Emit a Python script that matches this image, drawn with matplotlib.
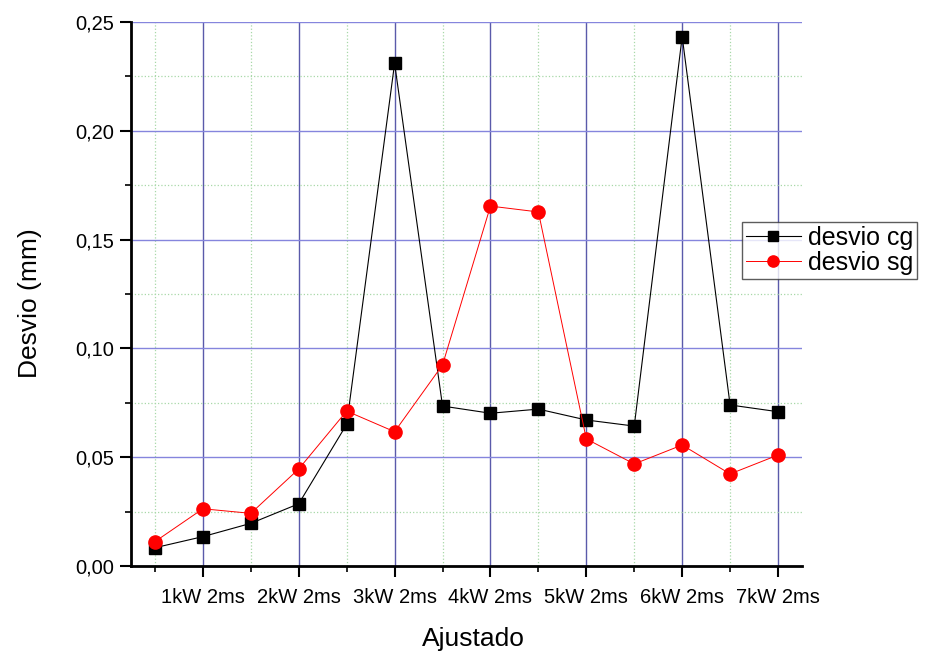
import numpy as np
import matplotlib.pyplot as plt
from matplotlib.ticker import MultipleLocator, FuncFormatter

plt.rcParams['font.family'] = ['Liberation Sans', 'DejaVu Sans']

# data
pos = np.arange(1, 15)
desvio_cg = [0.0084, 0.0135, 0.0196, 0.0286, 0.0651, 0.2310, 0.0735,
             0.0702, 0.0721, 0.0671, 0.0643, 0.2433, 0.0740, 0.0709]
desvio_sg = [0.0112, 0.0263, 0.0242, 0.0446, 0.0712, 0.0617, 0.0924,
             0.1654, 0.1627, 0.0584, 0.0469, 0.0556, 0.0423, 0.0510]
tick_pos = [2, 4, 6, 8, 10, 12, 14]
tick_labels = ['1kW 2ms', '2kW 2ms', '3kW 2ms', '4kW 2ms',
               '5kW 2ms', '6kW 2ms', '7kW 2ms']

fig = plt.figure(figsize=(9.28, 6.53), dpi=100)
ax = fig.add_axes([131/928, 87/653, (802-131)/928, (566-22)/653])

ax.plot(pos, desvio_cg, color='black', lw=0.8, marker='s', ms=8,
        mfc='black', mec='black', label='desvio cg', zorder=3)
ax.plot(pos, desvio_sg, color='red', lw=0.7, marker='o', ms=9.5,
        mfc='red', mec='red', label='desvio sg', zorder=3)

ax.set_xlim(0.5, 14.5)
ax.set_ylim(0, 0.25)
ax.set_xticks(tick_pos)
ax.set_xticklabels(tick_labels)
ax.set_xticks([1, 3, 5, 7, 9, 11, 13], minor=True)
ax.yaxis.set_major_locator(MultipleLocator(0.05))
ax.yaxis.set_minor_locator(MultipleLocator(0.025))
ax.yaxis.set_major_formatter(FuncFormatter(lambda v, p: f'{v:.2f}'.replace('.', ',')))

ax.grid(which='major', axis='x', color='#5a5aaa', lw=1.0)
ax.grid(which='major', axis='y', color='#8585dd', lw=1.0)
ax.grid(which='minor', color='#a8d8a8', lw=0.9, ls=':')
ax.set_axisbelow(True)

for s in ['top', 'right']:
    ax.spines[s].set_visible(False)
for s in ['left', 'bottom']:
    ax.spines[s].set_linewidth(2)
ax.tick_params(which='major', direction='out', length=8, width=1.5, labelsize=14.5, pad=4)
ax.tick_params(which='minor', direction='out', length=4, width=1.2)
ax.tick_params(axis='x', pad=8)

ax.set_xlabel('Ajustado', fontsize=19, labelpad=14)
ax.set_ylabel('Desvio (mm)', fontsize=19, labelpad=24)
ax.xaxis.label.set_x(0.511)
ax.yaxis.label.set_y(0.483)

leg = ax.legend(loc='upper left', bbox_to_anchor=(742/928, 1-222/653),
                bbox_transform=fig.transFigure, fontsize=18, frameon=True,
                fancybox=False, edgecolor='#333333', handlelength=2.2,
                borderpad=0.15, labelspacing=0.05, handletextpad=0.3,
                borderaxespad=0, markerscale=0.85)
leg.get_frame().set_linewidth(1.0)

fig.savefig('out.png', dpi=100)
